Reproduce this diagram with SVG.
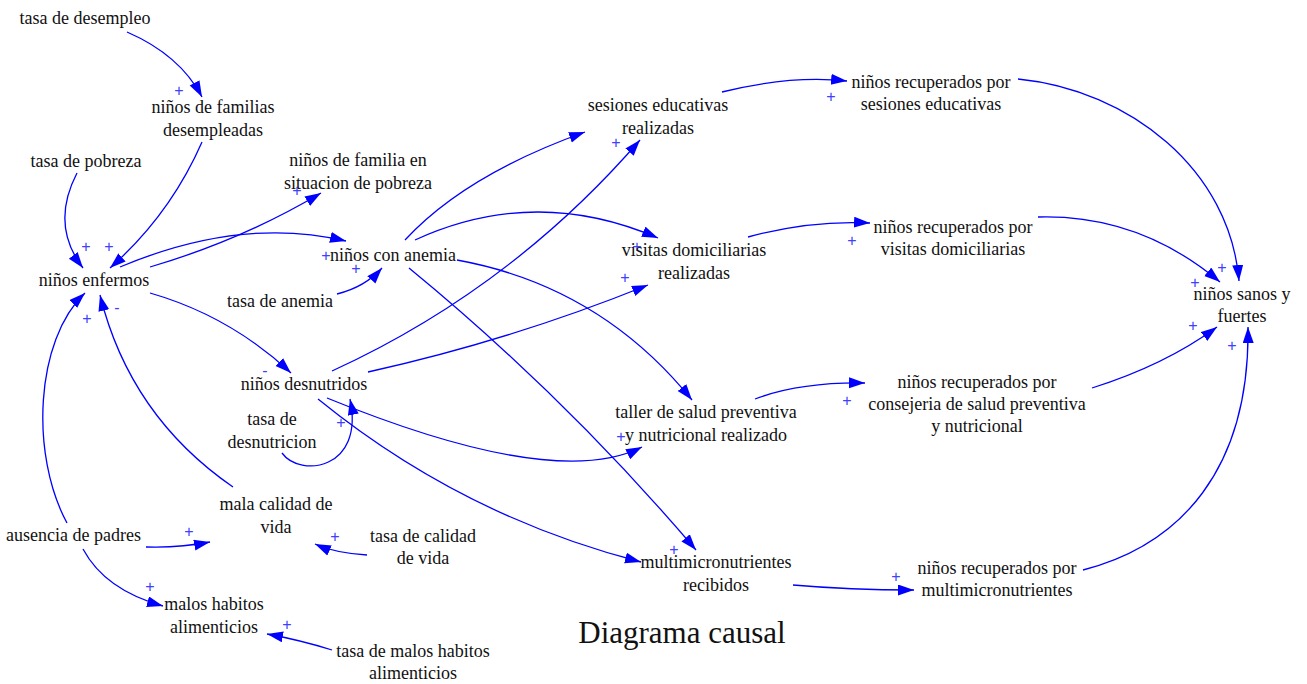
<svg xmlns="http://www.w3.org/2000/svg" width="1307" height="684" viewBox="0 0 1307 684">
<style>
.n{font-family:"Liberation Serif","Times New Roman",serif;font-size:18px;fill:#111;text-anchor:middle}
.t{font-family:"Liberation Serif","Times New Roman",serif;font-size:31px;fill:#111;text-anchor:middle}
.c path{fill:none;stroke:#0000ff;stroke-width:1.3;marker-end:url(#ah)}
.s{font-family:"Liberation Sans",Arial,sans-serif;font-size:16px;fill:#4040ff;text-anchor:middle}
</style>
<defs>
<marker id="ah" markerUnits="userSpaceOnUse" markerWidth="17" markerHeight="12" refX="16" refY="5.5" orient="auto">
<path d="M0,0 L16,5.5 L0,11 z" fill="#0000ff"/>
</marker>
</defs>
<rect width="1307" height="684" fill="#fff"/>
<g id="connectors" class="c">
<path d="M127,32 Q180,55 202,97"/>
<path d="M202,142 Q170,215 110,268"/>
<path d="M77,173 Q50,225 83,268"/>
<path d="M150,267 Q242,240 321,193"/>
<path d="M120,267 Q241,216 346,241"/>
<path d="M337,294 Q365,287 382,268"/>
<path d="M150,293 Q230,316 291,373"/>
<path d="M282,453 C300,478 365,470 350,399"/>
<path d="M67,523 C30,455 35,340 85,293"/>
<path d="M233,487 Q130,416 100,295"/>
<path d="M146,547 Q180,548 210,542"/>
<path d="M83,549 Q105,590 163,606"/>
<path d="M332,650 Q300,640 267,634"/>
<path d="M367,555 Q335,553 315,544"/>
<path d="M405,240 Q465,175 585,132"/>
<path d="M415,240 Q535,185 658,238"/>
<path d="M457,260 Q600,286 692,400"/>
<path d="M409,268 Q565,396 696,550"/>
<path d="M332,371 Q511,289 640,140"/>
<path d="M368,372 Q512,340 648,285"/>
<path d="M327,398 Q555,491 642,447"/>
<path d="M318,399 Q462,516 641,562"/>
<path d="M722,92 Q790,75 847,81"/>
<path d="M748,237 Q810,220 870,223"/>
<path d="M755,399 Q800,382 865,383"/>
<path d="M793,585 Q850,590 914,590"/>
<path d="M1018,79 C1130,90 1230,170 1239,281"/>
<path d="M1038,217 C1110,215 1170,240 1220,282"/>
<path d="M1092,388 Q1165,365 1217,327"/>
<path d="M1083,570 C1180,545 1250,470 1248,327"/>
</g>
<g id="polarities">
<text class="s" x="179" y="96">+</text>
<text class="s" x="109" y="252">+</text>
<text class="s" x="86" y="252">+</text>
<text class="s" x="297" y="196">+</text>
<text class="s" x="326" y="261">+</text>
<text class="s" x="356" y="274">+</text>
<text class="s" x="265" y="376">-</text>
<text class="s" x="341" y="428">+</text>
<text class="s" x="87" y="324">+</text>
<text class="s" x="117" y="313">-</text>
<text class="s" x="189" y="537">+</text>
<text class="s" x="150" y="592">+</text>
<text class="s" x="287" y="630">+</text>
<text class="s" x="335" y="542">+</text>
<text class="s" x="616" y="148">+</text>
<text class="s" x="637" y="252">+</text>
<text class="s" x="625" y="283">+</text>
<text class="s" x="621" y="442">+</text>
<text class="s" x="674" y="555">+</text>
<text class="s" x="831" y="102">+</text>
<text class="s" x="852" y="246">+</text>
<text class="s" x="847" y="406">+</text>
<text class="s" x="896" y="582">+</text>
<text class="s" x="1222" y="273">+</text>
<text class="s" x="1195" y="288">+</text>
<text class="s" x="1193" y="331">+</text>
<text class="s" x="1232" y="351">+</text>
</g>
<g id="tasa-desempleo"><text class="n" x="85" y="24">tasa de desempleo</text></g>
<g id="ninos-familias-desempleadas"><text class="n" y="113"><tspan x="213">niños de familias</tspan><tspan x="213" dy="23">desempleadas</tspan></text></g>
<g id="tasa-pobreza"><text class="n" x="86" y="167">tasa de pobreza</text></g>
<g id="ninos-familia-pobreza"><text class="n" y="166"><tspan x="358">niños de familia en</tspan><tspan x="358" dy="23">situacion de pobreza</tspan></text></g>
<g id="ninos-enfermos"><text class="n" x="94" y="286">niños enfermos</text></g>
<g id="ninos-anemia"><text class="n" x="393" y="261">niños con anemia</text></g>
<g id="tasa-anemia"><text class="n" x="280" y="307">tasa de anemia</text></g>
<g id="ninos-desnutridos"><text class="n" x="304" y="390">niños desnutridos</text></g>
<g id="tasa-desnutricion"><text class="n" y="425"><tspan x="272">tasa de</tspan><tspan x="272" dy="23">desnutricion</tspan></text></g>
<g id="mala-calidad-vida"><text class="n" y="510"><tspan x="276">mala calidad de</tspan><tspan x="276" dy="23">vida</tspan></text></g>
<g id="ausencia-padres"><text class="n" x="141" y="541" style="text-anchor:end">ausencia de padres</text></g>
<g id="malos-habitos"><text class="n" y="610"><tspan x="214">malos habitos</tspan><tspan x="214" dy="23">alimenticios</tspan></text></g>
<g id="tasa-calidad-vida"><text class="n" y="542"><tspan x="423">tasa de calidad</tspan><tspan x="423" dy="22">de vida</tspan></text></g>
<g id="tasa-malos-habitos"><text class="n" y="657"><tspan x="413">tasa de malos habitos</tspan><tspan x="413" dy="22">alimenticios</tspan></text></g>
<g id="sesiones-educativas"><text class="n" y="111"><tspan x="658">sesiones educativas</tspan><tspan x="658" dy="23">realizadas</tspan></text></g>
<g id="visitas-domiciliarias"><text class="n" y="256"><tspan x="694">visitas domiciliarias</tspan><tspan x="694" dy="23">realizadas</tspan></text></g>
<g id="taller-salud"><text class="n" y="418"><tspan x="706">taller de salud preventiva</tspan><tspan x="706" dy="23">y nutricional realizado</tspan></text></g>
<g id="multimicronutrientes"><text class="n" y="568"><tspan x="716">multimicronutrientes</tspan><tspan x="716" dy="23">recibidos</tspan></text></g>
<g id="rec-sesiones"><text class="n" y="88"><tspan x="931">niños recuperados por</tspan><tspan x="931" dy="22">sesiones educativas</tspan></text></g>
<g id="rec-visitas"><text class="n" y="233"><tspan x="953">niños recuperados por</tspan><tspan x="953" dy="22">visitas domiciliarias</tspan></text></g>
<g id="rec-consejeria"><text class="n" y="388"><tspan x="977">niños recuperados por</tspan><tspan x="977" dy="22">consejeria de salud preventiva</tspan><tspan x="977" dy="22">y nutricional</tspan></text></g>
<g id="rec-multimicronutrientes"><text class="n" y="574"><tspan x="997">niños recuperados por</tspan><tspan x="997" dy="22">multimicronutrientes</tspan></text></g>
<g id="ninos-sanos"><text class="n" y="300"><tspan x="1242">niños sanos y</tspan><tspan x="1242" dy="22">fuertes</tspan></text></g>
<g id="titulo"><text class="t" x="682" y="643">Diagrama causal</text></g>
</svg>
